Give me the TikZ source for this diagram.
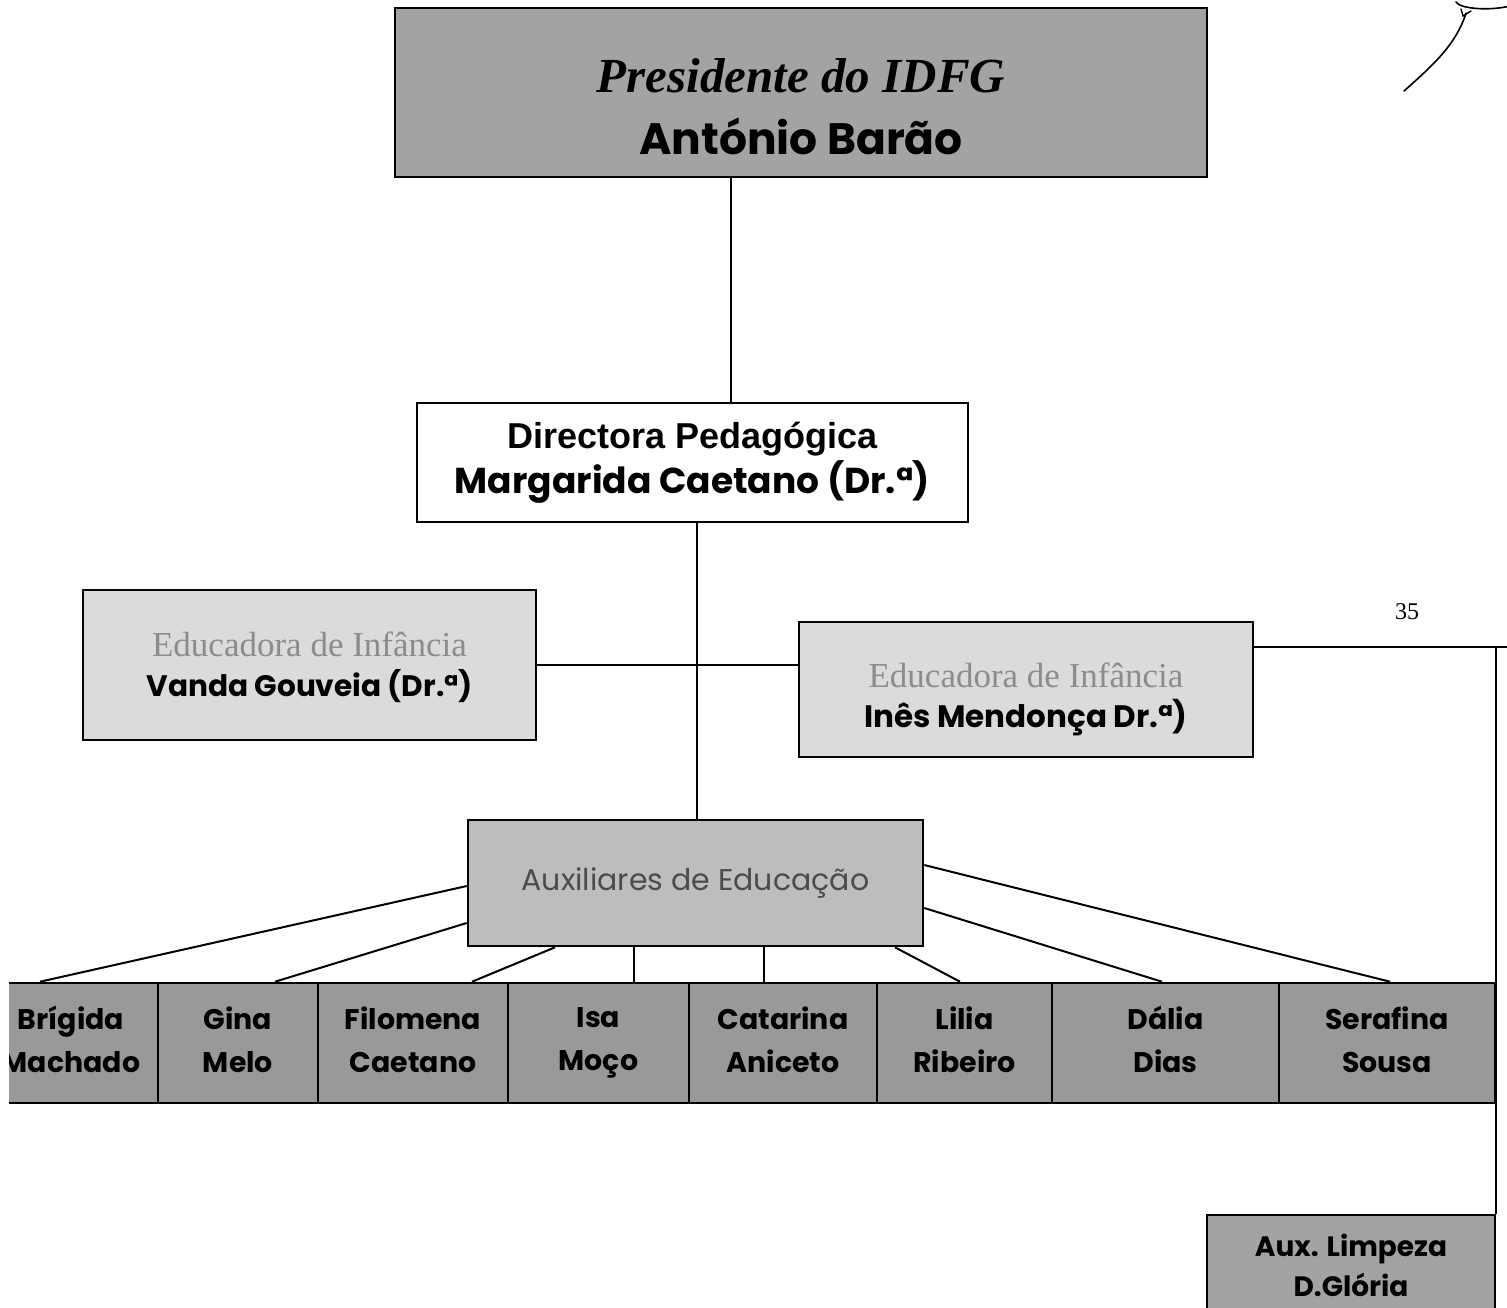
\documentclass[tikz,border=0pt]{standalone}
\usepackage{fontspec}
\setmainfont{Liberation Serif}
\newfontfamily\comic{Poppins}
\newfontfamily\arialf{Liberation Sans}
\definecolor{presfill}{gray}{0.64}
\definecolor{edufill}{gray}{0.86}
\definecolor{edutext}{gray}{0.55}
\definecolor{auxfill}{gray}{0.74}
\definecolor{auxtext}{gray}{0.3}
\definecolor{rowfill}{gray}{0.6}
\begin{document}
\begin{tikzpicture}[x=0.5pt,y=-0.5pt,
  conn/.style={draw=black, line width=1pt},
  box/.style={draw=black, line width=1.3pt, rectangle, inner sep=0pt, align=center},
  presbox/.style={box, fill=presfill, minimum width=406pt, minimum height=84.5pt},
  dirbox/.style={box, fill=white, minimum width=275.5pt, minimum height=59.5pt},
  edubox/.style={box, fill=edufill},
  auxbox/.style={box, fill=auxfill, minimum width=227.5pt, minimum height=63pt},
  namebox/.style={box, fill=rowfill, minimum height=60pt, font=\comic\bfseries\fontsize{14.2}{21.5}\selectfont, execute at end node={\vphantom{ç}}},
  limpbox/.style={box, fill=presfill, minimum width=144pt, minimum height=62.5pt},
  edulbl/.style={align=center, font=\fontsize{17.5}{20}\selectfont}
]
\useasboundingbox (0,0) rectangle (1507,1307);
\begin{scope}
\clip (9,-5) rectangle (1512,1312);

% boxes
\node[presbox, label={[name=presT, align=center, yshift=-7pt, font=\fontsize{22}{31}\selectfont]center:{\fontsize{24.5}{31}\selectfont\bfseries\itshape Presidente do IDFG}\\{\comic\bfseries\fontsize{22}{31}\selectfont António Barão}}] (pres) at (801,92.5) {};

\node[dirbox, font=\fontsize{18}{22.5}\selectfont] (dir) at (692.5,462.5)
  {{\arialf\bfseries Directora Pedagógica}\\{\comic\bfseries Margarida Caetano (Dr.ª)}};

\node[edubox, minimum width=226.5pt, minimum height=75pt, label={[name=vandaT, edulbl, yshift=-1pt]center:{\color{edutext}Educadora de Infância}\\{\comic\bfseries\fontsize{14.8}{20}\selectfont Vanda Gouveia (Dr.ª)}}] (vanda) at (309.5,665) {};

\node[edubox, minimum width=227pt, minimum height=67.5pt, label={[name=inesT, edulbl, yshift=-5pt]center:{\color{edutext}Educadora de Infância}\\{\comic\bfseries\fontsize{15.5}{21}\selectfont Inês Mendonça Dr.ª)}}] (ines) at (1026,689.5) {};

\node[auxbox, font=\comic\fontsize{15}{18}\selectfont, text=auxtext] (aux) at (695.5,883) {Auxiliares de Educação};

\node[namebox, minimum width=87pt]  (brig) at (71,1043)     {Brígida\\Machado};
\node[namebox, minimum width=80pt]  (gina) at (238,1043)    {Gina\\Melo};
\node[namebox, minimum width=95pt]  (filo) at (413,1043)    {Filomena\\Caetano};
\node[namebox, minimum width=90.5pt] (isa) at (598.5,1043)  {Isa\\Moço};
\node[namebox, minimum width=94pt]  (cata) at (783,1043)    {Catarina\\Aniceto};
\node[namebox, minimum width=87.5pt] (lili) at (964.5,1043) {Lilia\\Ribeiro};
\node[namebox, minimum width=113.5pt] (dali) at (1165.5,1043) {Dália\\Dias};
\node[namebox, minimum width=108pt] (sera) at (1387,1043)   {Serafina\\Sousa};

\node[limpbox, label={[name=limpT, align=center, yshift=6pt, font=\comic\bfseries\fontsize{14}{20}\selectfont]center:Aux. Limpeza\\D.Glória}] (limp) at (1351,1277.5) {};

\node[font=\fontsize{12}{14}\selectfont] (pg) at (1407,612) {35};

% connectors
\draw[conn] ([xshift=-35pt]pres.south) -- ([xshift=-35pt]pres.south |- dir.north);
\draw[conn] ([xshift=2.25pt]dir.south) -- ([xshift=2.25pt]dir.south |- aux.north);
\draw[conn] (vanda.east) -- (vanda.east -| ines.west);
\coordinate (ie) at ([yshift=21.25pt]ines.east);
\coordinate (corner) at (ie -| limp.north east);
\draw[conn] (ie) -- (corner) -- (limp.north east);
\draw[conn] (corner) -- ++(14,0);

\draw[conn] ([yshift=-1.5pt]aux.west) -- ([xshift=-15.5pt]brig.north);
\draw[conn] ([yshift=-20pt]aux.west) -- ([xshift=18.5pt]gina.north);
\draw[conn] ([xshift=-70.25pt]aux.south) -- ([xshift=29.5pt]filo.north);
\draw[conn] ([xshift=-30.75pt]aux.south) -- ([xshift=-30.75pt]aux.south |- isa.north);
\draw[conn] ([xshift=34.25pt]aux.south) -- ([xshift=34.25pt]aux.south |- cata.north);
\draw[conn] ([xshift=99.75pt]aux.south) -- ([xshift=-2.25pt]lili.north);
\draw[conn] ([yshift=-12.5pt]aux.east) -- ([xshift=-1.75pt]dali.north);
\draw[conn] ([yshift=9pt]aux.east) -- ([xshift=1.5pt]sera.north);

% signature mark
\draw[line width=0.8pt, line cap=round] (1404,91) .. controls (1432,66) and (1456,45) .. (1466,13);
\draw[line width=0.8pt, line cap=round] (1510,6) .. controls (1490,11) and (1460,9) .. (1456,2);
\draw[line width=0.7pt, line cap=round] (1461,9) -- (1463,16) -- (1471,11);
\end{scope}
\end{tikzpicture}
\end{document}
